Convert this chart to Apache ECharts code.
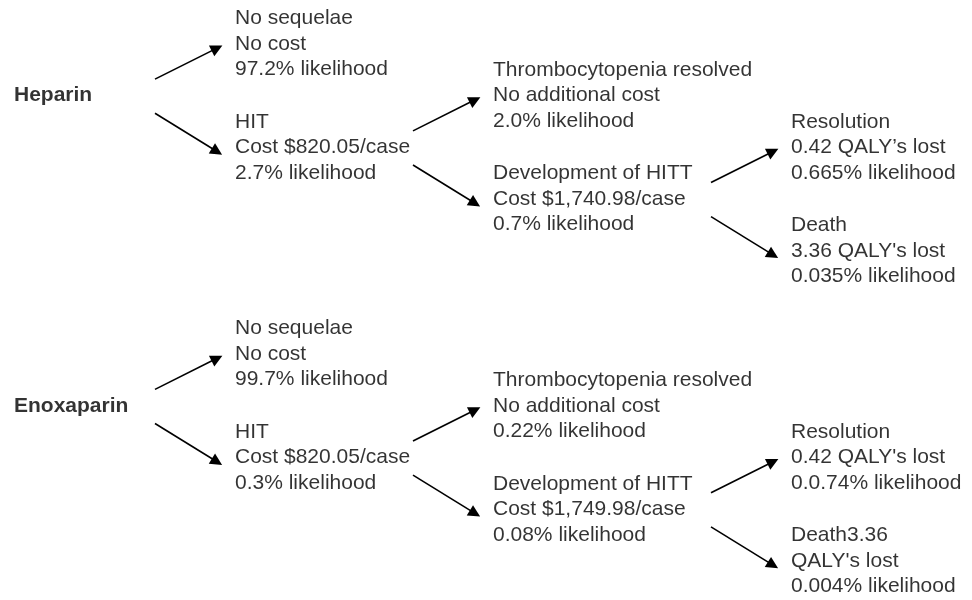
<!DOCTYPE html>
<html>
<head>
<meta charset="utf-8">
<script src="https://cdn.jsdelivr.net/npm/echarts@6/dist/echarts.min.js"></script>
<style>
  html, body { margin: 0; padding: 0; background: #fff; }
  #chart { width: 972px; height: 600px; }
</style>
</head>
<body>
<div id="chart"></div>
<script>
// ---- Data ----
const treatments = ['Heparin', 'Enoxaparin'];

const heparinLabels = [
  ['No sequelae', 'No cost', '97.2% likelihood'],
  ['HIT', 'Cost $820.05/case', '2.7% likelihood'],
  ['Thrombocytopenia resolved', 'No additional cost', '2.0% likelihood'],
  ['Development of HITT', 'Cost $1,740.98/case', '0.7% likelihood'],
  ['Resolution', '0.42 QALY\u2019s lost', '0.665% likelihood'],
  ['Death', "3.36 QALY's lost", '0.035% likelihood']
];

const enoxaparinLabels = [
  ['No sequelae', 'No cost', '99.7% likelihood'],
  ['HIT', 'Cost $820.05/case', '0.3% likelihood'],
  ['Thrombocytopenia resolved', 'No additional cost', '0.22% likelihood'],
  ['Development of HITT', 'Cost $1,749.98/case', '0.08% likelihood'],
  ['Resolution', "0.42 QALY's lost", '0.0.74% likelihood'],
  ['Death3.36', "QALY's lost", '0.004% likelihood']
];

// tree structure (same for both treatments): parent index (-1 = treatment root)
const parentIndex = [-1, -1, 1, 1, 3, 3];
const nodeDepth   = [1, 1, 2, 2, 3, 3];
const nodeRow     = [0, 2, 1, 3, 2, 4];   // vertical slot inside one tree
const rootRow = 1;
const treeRowOffset = [0, 6];

// ---- Layout (not data) ----
const colX = [14, 235, 493, 791];        // left edge of each depth column (axis units)
const arrowStartGap = 80, arrowEndGap = 18;
const startUp = -0.32, startDown = 0.34, endShift = 0.08;
const FONT = 'Liberation Sans, Arial, Helvetica, sans-serif';

const textPoints = [];
const arrows = [];
const allLabels = [heparinLabels, enoxaparinLabels];

treatments.forEach(function (name, t) {
  const off = treeRowOffset[t];
  const rootY = rootRow + off;
  textPoints.push({
    value: [colX[0], rootY],
    label: { formatter: name, fontWeight: 'bold' }
  });
  const labels = allLabels[t];
  labels.forEach(function (lines, i) {
    const d = nodeDepth[i];
    const y = nodeRow[i] + off;
    textPoints.push({ value: [colX[d], y], label: { formatter: lines.join('\n') } });
    const p = parentIndex[i];
    const py = p < 0 ? rootY : nodeRow[p] + off;
    const up = y < py;
    arrows.push({
      coords: [
        [colX[d] - arrowStartGap, py + (up ? startUp : startDown)],
        [colX[d] - arrowEndGap, y + endShift]
      ]
    });
  });
});

const chart = echarts.init(document.getElementById('chart'), null, { renderer: 'canvas' });
chart.setOption({
  backgroundColor: '#ffffff',
  animation: false,
  grid: { left: 0, right: 0, top: 18.15, bottom: 13.15 },
  xAxis: { type: 'value', min: 0, max: 972, show: false },
  yAxis: { type: 'value', min: -0.5, max: 10.5, inverse: true, show: false },
  series: [
    {
      type: 'lines',
      coordinateSystem: 'cartesian2d',
      symbol: ['none', 'triangle'],
      symbolSize: [9, 12],
      lineStyle: { color: '#000', width: 1.6, opacity: 1 },
      itemStyle: { color: '#000' },
      silent: true,
      data: arrows
    },
    {
      type: 'scatter',
      symbolSize: 0,
      silent: true,
      label: {
        show: true,
        position: 'right',
        distance: 0,
        color: '#000',
        fontFamily: FONT,
        fontSize: 21,
        lineHeight: 25.5,
        align: 'left',
        verticalAlign: 'middle'
      },
      data: textPoints
    }
  ]
});
</script>
</body>
</html>
